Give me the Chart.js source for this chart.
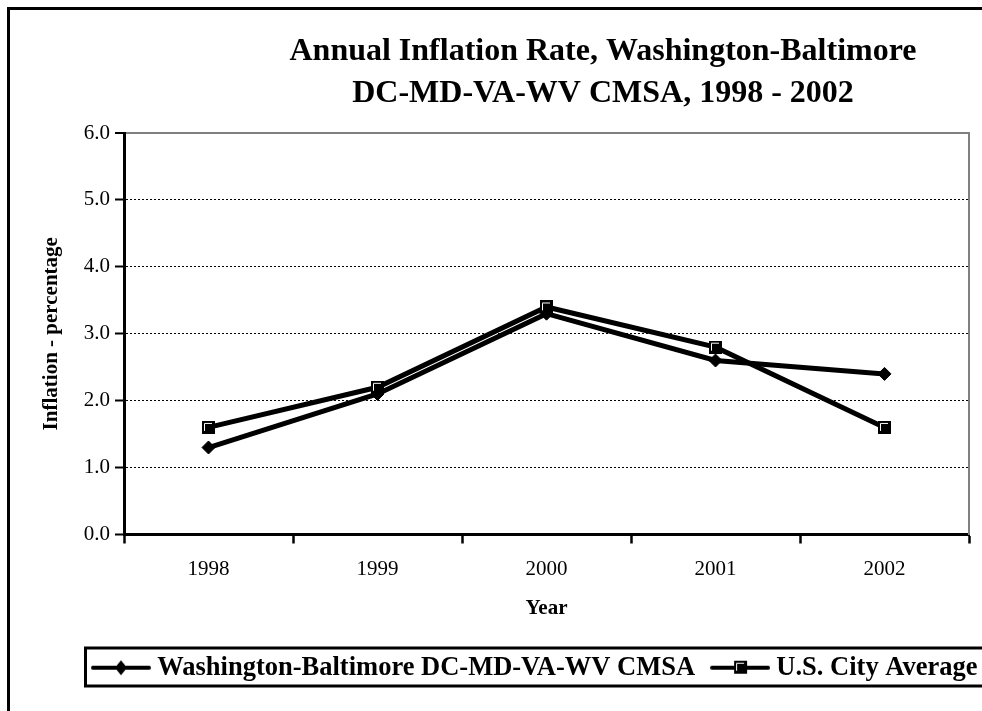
<!DOCTYPE html>
<html>
<head>
<meta charset="utf-8">
<title>Annual Inflation Rate</title>
<script src="https://cdn.jsdelivr.net/npm/chart.js@4.4.0/dist/chart.umd.min.js"></script>
<style>
  html, body { margin: 0; padding: 0; background: #fff; overflow: hidden; }
  #frame { position: absolute; left: 7px; top: 7px; width: 1186px; height: 720px; border: 3px solid #000; }
  canvas { display: block; }
</style>
</head>
<body>
<div id="frame"><canvas id="myChart" width="1186" height="720"></canvas></div>
<script>
const years = ['1998', '1999', '2000', '2001', '2002'];
const washBalt = [1.3, 2.1, 3.3, 2.6, 2.4];
const usCity = [1.6, 2.2, 3.4, 2.8, 1.6];
const seriesNames = ['Washington-Baltimore DC-MD-VA-WV CMSA', 'U.S. City Average'];
const titleLines = ['Annual Inflation Rate, Washington-Baltimore', 'DC-MD-VA-WV CMSA, 1998 - 2002'];
const yMin = 0, yMax = 6, yStep = 1;

const serif = "'Liberation Serif', 'Times New Roman', serif";

// black square marker with a thin white inset on top/left
const squareMarker = (size) => {
  const c = document.createElement('canvas');
  c.width = size; c.height = size;
  const g = c.getContext('2d');
  g.fillStyle = '#000';
  g.fillRect(0, 0, size, size);
  g.strokeStyle = '#fff';
  g.lineWidth = 1;
  g.beginPath();
  g.moveTo(2.5, size - 3);
  g.lineTo(2.5, 2.5);
  g.lineTo(size - 3, 2.5);
  g.stroke();
  return c;
};

const legendIcon = (kind) => {
  const c = document.createElement('canvas');
  c.width = 60; c.height = 18;
  const g = c.getContext('2d');
  g.strokeStyle = '#000';
  g.lineWidth = 4;
  g.lineCap = 'round';
  g.beginPath();
  g.moveTo(2, 9);
  g.lineTo(58, 9);
  g.stroke();
  if (kind === 'diamond') {
    g.fillStyle = '#000';
    g.beginPath();
    g.moveTo(30, 1.5);
    g.lineTo(36, 9);
    g.lineTo(30, 16.5);
    g.lineTo(24, 9);
    g.closePath();
    g.fill();
  } else {
    g.drawImage(squareMarker(13), 24, 2);
  }
  return c;
};

const squareImg = squareMarker(13);
const legendIcons = [legendIcon('diamond'), legendIcon('square')];

// shifts the legend to the left and draws its frame
const legendFrame = {
  id: 'legendFrame',
  afterLayout(chart) {
    chart.legend.left = 66;
  },
  afterDraw(chart) {
    const lg = chart.legend;
    const pad = lg.options.labels.padding;
    const x0 = lg.left + pad;
    const cy = lg.top + pad + 13;
    const ctx = chart.ctx;
    ctx.save();
    ctx.strokeStyle = '#000';
    ctx.lineWidth = 3;
    ctx.strokeRect(x0 - 12.5, cy - 19.5, 3000, 38);
    ctx.restore();
  }
};

const initChart = () => {
  const ctx = document.getElementById('myChart');
  if (!ctx)
    return
  Chart.defaults.color = '#000';
  Chart.defaults.font.family = serif;

  const data = {
    labels: years,
    datasets: [{
      label: seriesNames[0],
      data: washBalt,
      borderColor: '#000',
      backgroundColor: '#000',
      borderWidth: 5,
      pointStyle: 'rectRot',
      pointRadius: 6.5,
      pointBorderWidth: 1,
      tension: 0
    }, {
      label: seriesNames[1],
      data: usCity,
      borderColor: '#000',
      backgroundColor: '#000',
      borderWidth: 5,
      pointStyle: squareImg,
      pointRadius: 7,
      tension: 0
    }]
  };

  const config = {
    type: 'line',
    data,
    options: {
      responsive: false,
      animation: false,
      layout: { padding: { left: 0, right: 0, top: 0, bottom: 39 } },
      plugins: {
        title: {
          display: true,
          text: titleLines,
          color: '#000',
          font: { family: serif, size: 32, weight: 'bold', lineHeight: 42 / 32 },
          padding: { top: 20.5, bottom: 18.5 }
        },
        legend: {
          position: 'bottom',
          align: 'start',
          labels: {
            usePointStyle: true,
            pointStyleWidth: 46,
            padding: 22,
            color: '#000',
            font: { family: serif, size: 26.5, weight: 'bold' },
            generateLabels: (chart) => chart.data.datasets.map((ds, i) => ({
              text: ds.label,
              pointStyle: legendIcons[i],
              datasetIndex: i,
              hidden: false,
              lineWidth: 0,
              fillStyle: '#000',
              strokeStyle: '#000',
              fontColor: '#000'
            }))
          }
        },
        tooltip: { enabled: false }
      },
      scales: {
        x: {
          offset: true,
          afterFit: (s) => { s.height = 98; },
          grid: {
            offset: true,
            drawOnChartArea: false,
            drawTicks: true,
            tickLength: 9,
            tickColor: '#000',
            tickWidth: 2.5
          },
          border: { color: '#000', width: 3 },
          ticks: {
            padding: 13.4,
            color: '#000',
            font: { family: serif, size: 21 }
          },
          title: {
            display: true,
            text: 'Year',
            color: '#000',
            font: { family: serif, size: 21, weight: 'bold' },
            padding: { top: 0, bottom: 11.4 }
          }
        },
        y: {
          min: yMin,
          max: yMax,
          afterFit: (s) => { s.width = 114; },
          grid: {
            color: (c) => (c.tick && c.tick.value === yMax ? '#808080' : '#000'),
            lineWidth: (c) => (c.tick && c.tick.value === yMax ? 2 : 1),
            drawTicks: true,
            tickLength: 9,
            tickColor: '#000',
            tickWidth: 2,
            tickBorderDash: []
          },
          border: {
            color: '#000',
            width: 3,
            dash: (c) => (c.tick && c.tick.value === yMax ? [] : [2, 2])
          },
          ticks: {
            stepSize: yStep,
            padding: 5,
            color: '#000',
            font: { family: serif, size: 21 },
            // one decimal, as in the original
            callback: (v) => Number(v).toFixed(1)
          },
          title: {
            display: true,
            text: 'Inflation - percentage',
            color: '#000',
            font: { family: serif, size: 21, weight: 'bold' },
            padding: { top: 29.4, bottom: 0 }
          }
        },
        y2: {
          position: 'right',
          display: true,
          afterFit: (s) => { s.width = 227; },
          grid: { display: false },
          ticks: { display: false },
          border: { color: '#808080', width: 2 }
        }
      }
    },
    plugins: [legendFrame]
  };

  const myChart = new Chart(ctx, config);
}

initChart();
</script>
</body>
</html>
